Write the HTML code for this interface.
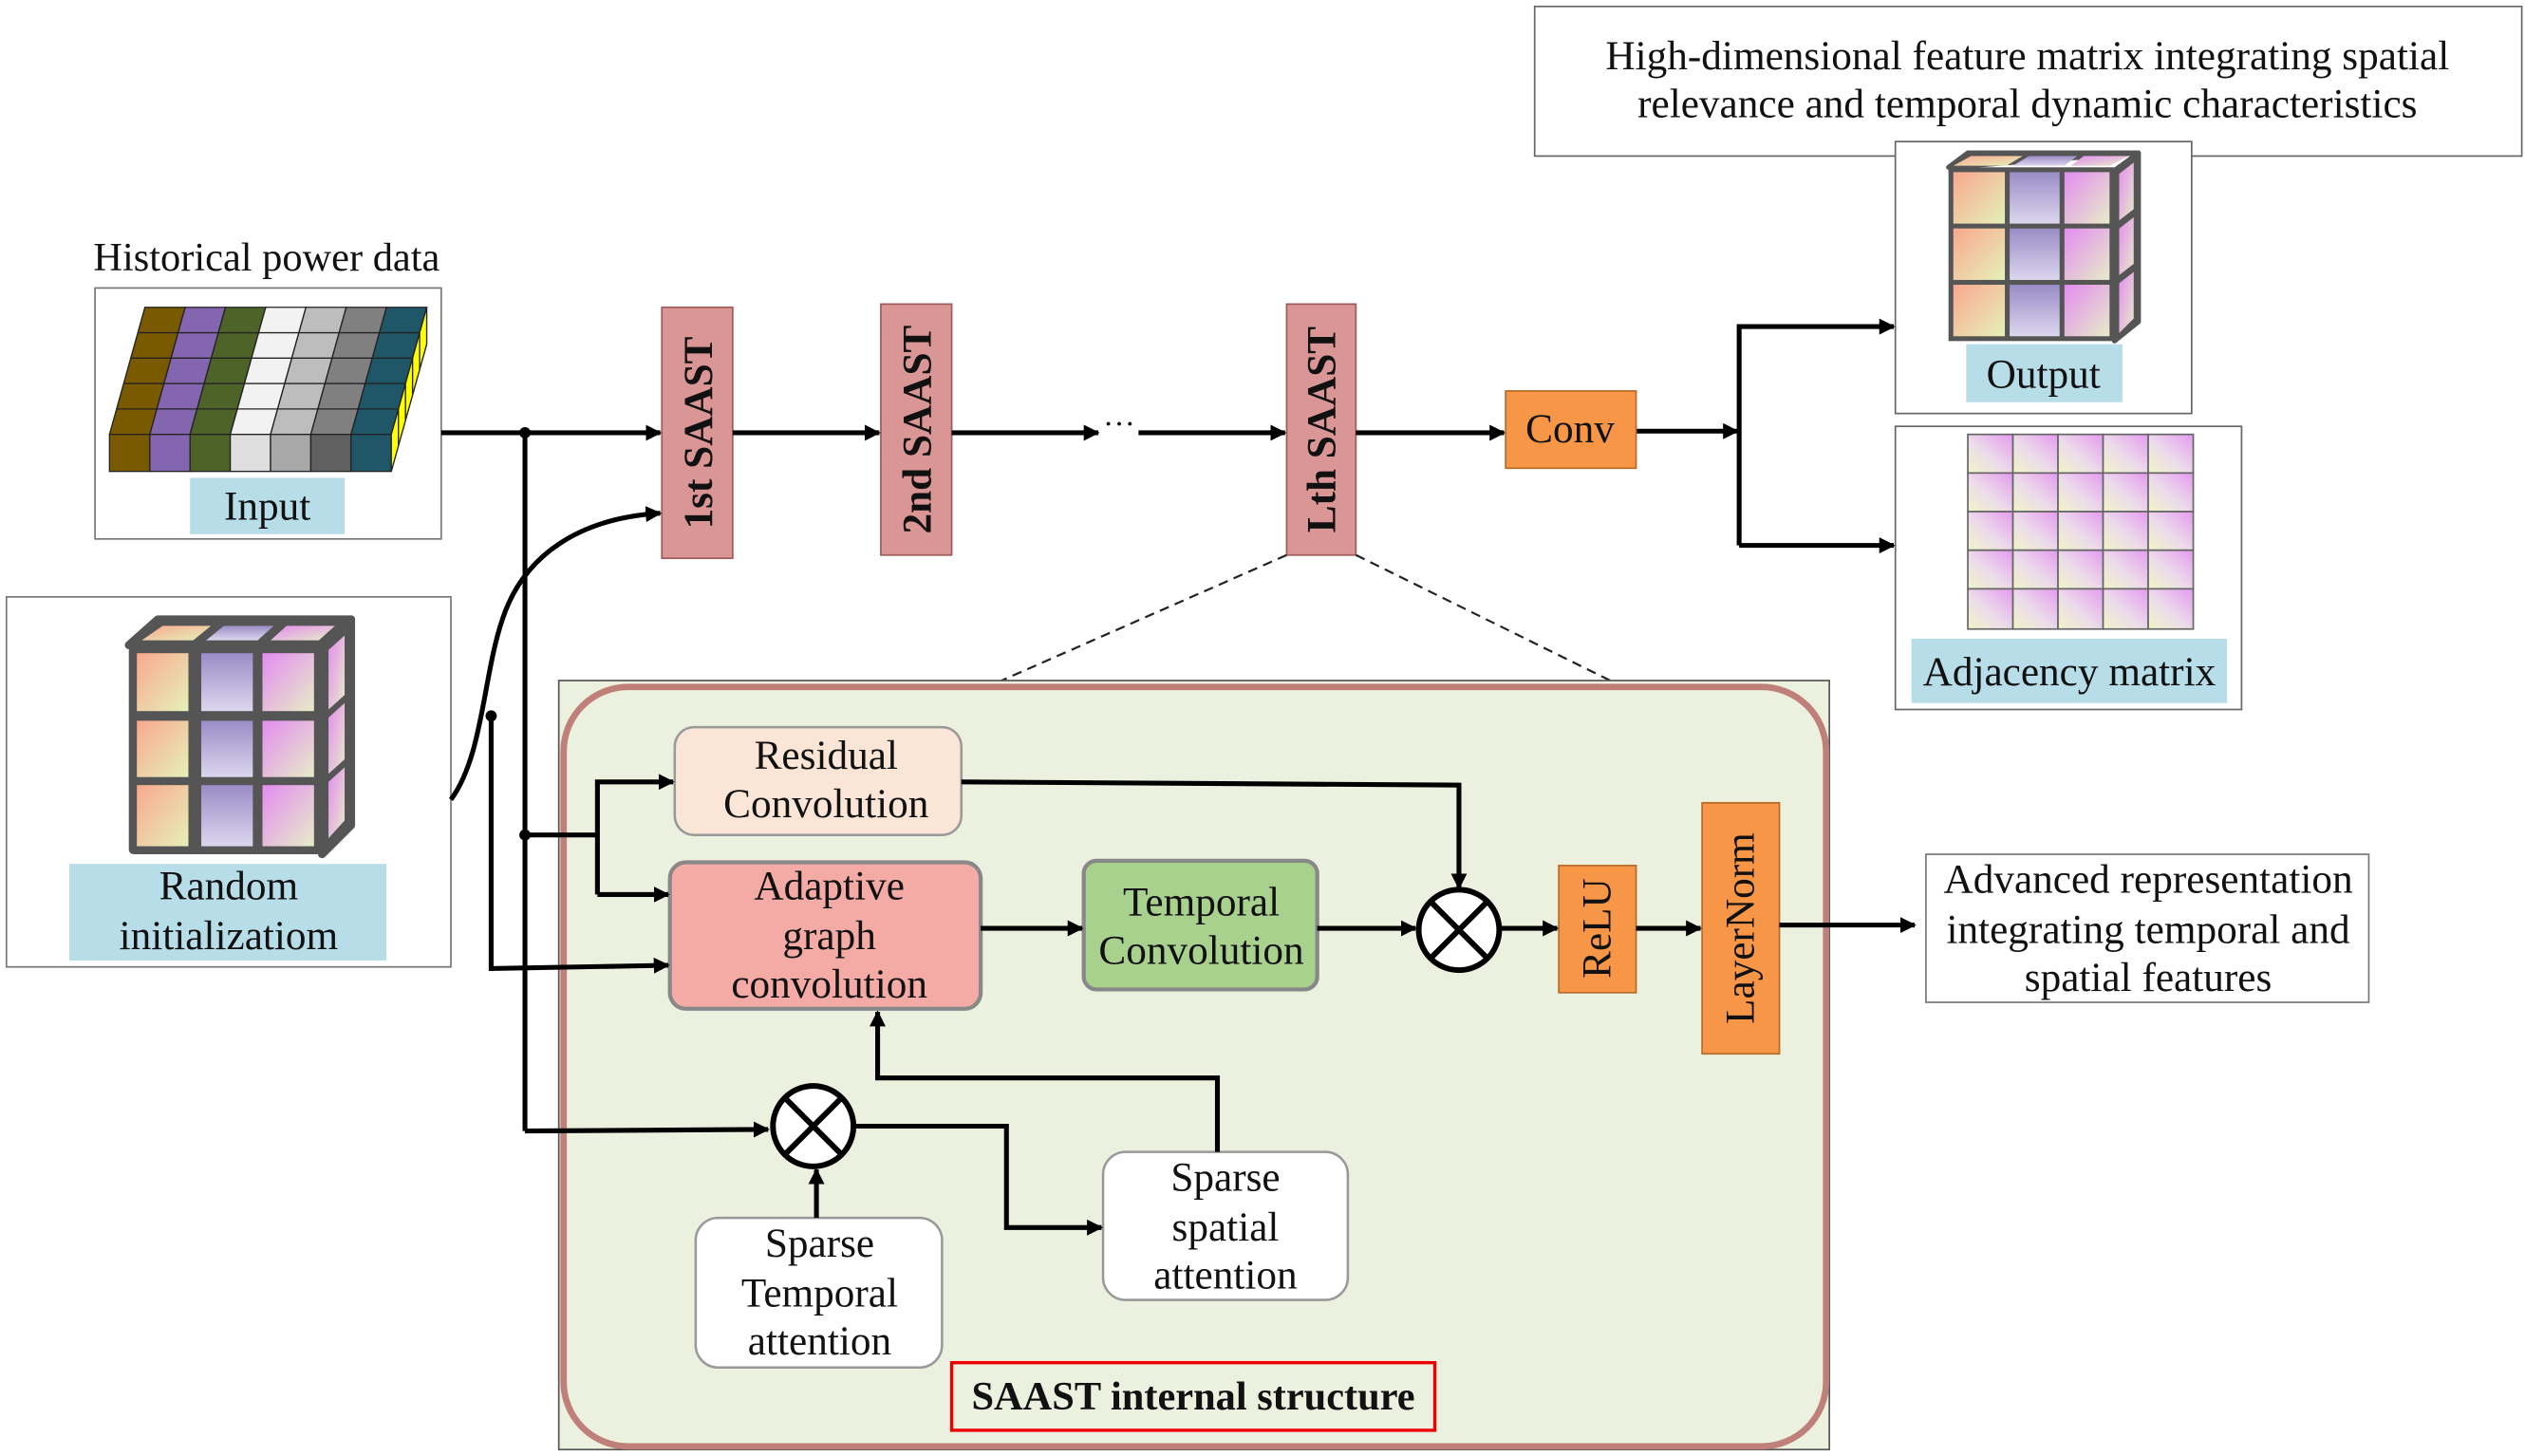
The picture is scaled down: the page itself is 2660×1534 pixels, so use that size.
<!DOCTYPE html>
<html><head><meta charset="utf-8"><style>
html,body{margin:0;padding:0;background:#fff;}
svg{display:block;}
text{font-family:"Liberation Serif","Times New Roman",serif;fill:#111;}
</style></head><body>
<svg width="2660" height="1534" viewBox="0 0 1568 905" preserveAspectRatio="none" xmlns="http://www.w3.org/2000/svg" font-family="Liberation Serif, serif">
<defs>
<marker id="ar" markerWidth="10" markerHeight="10" refX="9" refY="5" orient="auto" markerUnits="userSpaceOnUse" viewBox="0 0 10 10"><path d="M0,0 L10,5 L0,10 z" fill="#000"/></marker>
<linearGradient id="g1" x1="0" y1="0" x2="1" y2="1"><stop offset="0" stop-color="#f9a88f"/><stop offset="1" stop-color="#e6f0b8"/></linearGradient>
<linearGradient id="g2" x1="0" y1="0" x2="0" y2="1"><stop offset="0" stop-color="#9a8cc6"/><stop offset="1" stop-color="#dcd6ee"/></linearGradient>
<linearGradient id="g3" x1="0" y1="0" x2="1" y2="1"><stop offset="0" stop-color="#e48cf0"/><stop offset="1" stop-color="#e6ecc8"/></linearGradient>
<linearGradient id="g4" x1="1" y1="0" x2="0" y2="1"><stop offset="0" stop-color="#e49af0"/><stop offset="0.55" stop-color="#ecdcea"/><stop offset="1" stop-color="#f0f4c8"/></linearGradient>
</defs>

<rect x="953" y="4" width="613" height="93" fill="#fff" stroke="#666" stroke-width="1"/>
<text x="1259" y="43" font-size="25.5" text-anchor="middle">High-dimensional feature matrix integrating spatial</text>
<text x="1259" y="73" font-size="25.5" text-anchor="middle">relevance and temporal dynamic characteristics</text>

<text x="58" y="168" font-size="25">Historical power data</text>
<rect x="59" y="179" width="215" height="156" fill="#fff" stroke="#777" stroke-width="1"/>
<g stroke="#222" stroke-width="0.8">
<polygon points="90,191 115,191 93,270 68,270" fill="#7a5a00"/>
<polygon points="115,191 140,191 118,270 93,270" fill="#8466b0"/>
<polygon points="140,191 165,191 143,270 118,270" fill="#4e6328"/>
<polygon points="165,191 190,191 168,270 143,270" fill="#f2f2f2"/>
<polygon points="190,191 215,191 193,270 168,270" fill="#bdbdbd"/>
<polygon points="215,191 240,191 218,270 193,270" fill="#808080"/>
<polygon points="240,191 265,191 243,270 218,270" fill="#1f5768"/>
<line x1="85.6" y1="206.8" x2="260.6" y2="206.8"/>
<line x1="81.2" y1="222.6" x2="256.2" y2="222.6"/>
<line x1="76.8" y1="238.4" x2="251.8" y2="238.4"/>
<line x1="72.4" y1="254.2" x2="247.4" y2="254.2"/>
<rect x="68" y="270" width="25" height="23" fill="#7a5a00"/>
<rect x="93" y="270" width="25" height="23" fill="#8466b0"/>
<rect x="118" y="270" width="25" height="23" fill="#4e6328"/>
<rect x="143" y="270" width="25" height="23" fill="#dedede"/>
<rect x="168" y="270" width="25" height="23" fill="#a8a8a8"/>
<rect x="193" y="270" width="25" height="23" fill="#606060"/>
<rect x="218" y="270" width="25" height="23" fill="#1f5768"/>
<polygon points="243,270 265,191 265,214 243,293" fill="#ffff00"/>
<line x1="247.4" y1="254.2" x2="247.4" y2="277"/>
<line x1="251.8" y1="238.4" x2="251.8" y2="261"/>
<line x1="256.2" y1="222.6" x2="256.2" y2="245"/>
<line x1="260.6" y1="206.8" x2="260.6" y2="230"/>
</g>
<rect x="118" y="297" width="96" height="35" fill="#b7dde8"/>
<text x="166" y="323" font-size="25.5" text-anchor="middle">Input</text>

<rect x="4" y="371" width="276" height="230" fill="#fff" stroke="#777" stroke-width="1"/>
<g stroke="#555" stroke-width="5" stroke-linejoin="round">
<polygon points="80,401 98,385 218,385 200,401" fill="#555"/>
<polygon points="200,401 218,385 218,513 200,531" fill="#555"/>
</g>
<g>
<polygon points="88,398 101,389 131,389 120,398" fill="url(#g1)"/>
<polygon points="128,398 139,389 170,389 160,398" fill="url(#g2)"/>
<polygon points="168,398 178,389 208,389 198,398" fill="url(#g3)"/>
<polygon points="204,404 214,395 214,432 204,441" fill="url(#g3)"/>
<polygon points="204,446 214,437 214,472 204,481" fill="url(#g3)"/>
<polygon points="204,486 214,477 214,510 204,521" fill="url(#g3)"/>
</g>
<rect x="80" y="401" width="120" height="130" fill="#555" rx="3"/>
<rect x="85" y="406" width="32" height="36" fill="url(#g1)"/>
<rect x="125" y="406" width="32" height="36" fill="url(#g2)"/>
<rect x="163" y="406" width="32" height="36" fill="url(#g3)"/>
<rect x="85" y="448" width="32" height="35" fill="url(#g1)"/>
<rect x="125" y="448" width="32" height="35" fill="url(#g2)"/>
<rect x="163" y="448" width="32" height="35" fill="url(#g3)"/>
<rect x="85" y="488" width="32" height="38" fill="url(#g1)"/>
<rect x="125" y="488" width="32" height="38" fill="url(#g2)"/>
<rect x="163" y="488" width="32" height="38" fill="url(#g3)"/>
<rect x="43" y="537" width="197" height="60" fill="#b7dde8"/>
<text x="142" y="559" font-size="25.5" text-anchor="middle">Random</text>
<text x="142" y="590" font-size="25.5" text-anchor="middle">initializatiom</text>

<g fill="#d99694" stroke="#a05a58" stroke-width="1">
<rect x="411" y="191" width="44" height="156"/>
<rect x="547" y="189" width="44" height="156"/>
<rect x="799" y="189" width="43" height="156"/>
</g>
<text transform="translate(442,269) rotate(-90)" font-size="25.5" font-weight="bold" text-anchor="middle">1st SAAST</text>
<text transform="translate(578,267) rotate(-90)" font-size="25.5" font-weight="bold" text-anchor="middle">2nd SAAST</text>
<text transform="translate(829,267) rotate(-90)" font-size="25.5" font-weight="bold" text-anchor="middle">Lth SAAST</text>

<g stroke="#000" stroke-width="3" fill="none">
<line x1="274" y1="269" x2="410" y2="269" marker-end="url(#ar)"/>
<line x1="455" y1="269" x2="546" y2="269" marker-end="url(#ar)"/>
<line x1="591" y1="269" x2="682" y2="269" marker-end="url(#ar)"/>
<line x1="707" y1="269" x2="798" y2="269" marker-end="url(#ar)"/>
<line x1="842" y1="269" x2="934" y2="269" marker-end="url(#ar)"/>
<line x1="1016" y1="268" x2="1079" y2="268" marker-end="url(#ar)"/>
<polyline points="1080,339 1080,203 1176,203" marker-end="url(#ar)"/>
<line x1="1080" y1="339" x2="1176" y2="339" marker-end="url(#ar)"/>
</g>
<text x="695" y="270" font-size="20" text-anchor="middle">···</text>
<rect x="935" y="243" width="81" height="48" fill="#f79646" stroke="#b86a28" stroke-width="1"/>
<text x="975" y="275" font-size="25.5" text-anchor="middle">Conv</text>

<rect x="1177" y="88" width="184" height="169" fill="#fff" stroke="#666" stroke-width="1"/>
<polygon points="1210,104 1222,95 1328,95 1313,106 1313,212 1328,200 1328,95" fill="#555" stroke="#555" stroke-width="3" stroke-linejoin="round"/>
<polygon points="1213,103 1224,97 1256,97 1246,103" fill="url(#g1)"/>
<polygon points="1250,103 1260,97 1290,97 1282,103" fill="url(#g2)"/>
<polygon points="1286,103 1294,97 1322,97 1310,103" fill="url(#g3)"/>
<polygon points="1316,108 1325,101 1325,130 1316,137" fill="url(#g3)"/>
<polygon points="1316,142 1325,135 1325,164 1316,171" fill="url(#g3)"/>
<polygon points="1316,176 1325,169 1325,198 1316,207" fill="url(#g3)"/>
<rect x="1210" y="104" width="103" height="108" fill="#555"/>
<rect x="1213" y="107" width="32" height="32" fill="url(#g1)"/>
<rect x="1248" y="107" width="31" height="32" fill="url(#g2)"/>
<rect x="1282" y="107" width="28" height="32" fill="url(#g3)"/>
<rect x="1213" y="142" width="32" height="32" fill="url(#g1)"/>
<rect x="1248" y="142" width="31" height="32" fill="url(#g2)"/>
<rect x="1282" y="142" width="28" height="32" fill="url(#g3)"/>
<rect x="1213" y="177" width="32" height="32" fill="url(#g1)"/>
<rect x="1248" y="177" width="31" height="32" fill="url(#g2)"/>
<rect x="1282" y="177" width="28" height="32" fill="url(#g3)"/>
<rect x="1221" y="214" width="97" height="36" fill="#b7dde8"/>
<text x="1269" y="241" font-size="25.5" text-anchor="middle">Output</text>

<rect x="1177" y="265" width="215" height="176" fill="#fff" stroke="#666" stroke-width="1"/>
<g stroke="#666" stroke-width="1" fill="url(#g4)">
<rect x="1222" y="270" width="28" height="24"/><rect x="1250" y="270" width="28" height="24"/><rect x="1278" y="270" width="28" height="24"/><rect x="1306" y="270" width="28" height="24"/><rect x="1334" y="270" width="28" height="24"/>
<rect x="1222" y="294" width="28" height="24"/><rect x="1250" y="294" width="28" height="24"/><rect x="1278" y="294" width="28" height="24"/><rect x="1306" y="294" width="28" height="24"/><rect x="1334" y="294" width="28" height="24"/>
<rect x="1222" y="318" width="28" height="24"/><rect x="1250" y="318" width="28" height="24"/><rect x="1278" y="318" width="28" height="24"/><rect x="1306" y="318" width="28" height="24"/><rect x="1334" y="318" width="28" height="24"/>
<rect x="1222" y="342" width="28" height="24"/><rect x="1250" y="342" width="28" height="24"/><rect x="1278" y="342" width="28" height="24"/><rect x="1306" y="342" width="28" height="24"/><rect x="1334" y="342" width="28" height="24"/>
<rect x="1222" y="366" width="28" height="25"/><rect x="1250" y="366" width="28" height="25"/><rect x="1278" y="366" width="28" height="25"/><rect x="1306" y="366" width="28" height="25"/><rect x="1334" y="366" width="28" height="25"/>
</g>
<rect x="1187" y="397" width="196" height="40" fill="#b7dde8"/>
<text x="1285" y="426" font-size="25.5" text-anchor="middle">Adjacency matrix</text>

<g stroke="#222" stroke-width="1.3" stroke-dasharray="6,4">
<line x1="799" y1="345" x2="622" y2="423"/>
<line x1="842" y1="345" x2="1000" y2="423"/>
</g>

<rect x="347" y="423" width="789" height="478" fill="#ebf1de" stroke="#555" stroke-width="1"/>
<rect x="350" y="427" width="784" height="472" rx="40" fill="#ebf1de" stroke="#c0807a" stroke-width="4"/>

<rect x="419" y="452" width="178" height="67" rx="12" fill="#fbe5d6" stroke="#999" stroke-width="1.5"/>
<text x="513" y="478" font-size="25.5" text-anchor="middle">Residual</text>
<text x="513" y="508" font-size="25.5" text-anchor="middle">Convolution</text>

<rect x="416" y="536" width="193" height="91" rx="10" fill="#f4aaa5" stroke="#888" stroke-width="2.5"/>
<text x="515" y="559" font-size="25.5" text-anchor="middle">Adaptive</text>
<text x="515" y="590" font-size="25.5" text-anchor="middle">graph</text>
<text x="515" y="620" font-size="25.5" text-anchor="middle">convolution</text>

<rect x="673" y="535" width="145" height="80" rx="8" fill="#a9d18e" stroke="#888" stroke-width="2.5"/>
<text x="746" y="569" font-size="25.5" text-anchor="middle">Temporal</text>
<text x="746" y="599" font-size="25.5" text-anchor="middle">Convolution</text>

<rect x="968" y="538" width="48" height="79" fill="#f79646" stroke="#b86a28" stroke-width="1"/>
<text transform="translate(1000,577) rotate(-90)" font-size="25.5" text-anchor="middle">ReLU</text>
<rect x="1057" y="499" width="48" height="156" fill="#f79646" stroke="#b86a28" stroke-width="1"/>
<text transform="translate(1089,577) rotate(-90)" font-size="25.5" text-anchor="middle">LayerNorm</text>

<rect x="685" y="716" width="152" height="92" rx="14" fill="#fff" stroke="#999" stroke-width="1.5"/>
<text x="761" y="740" font-size="25.5" text-anchor="middle">Sparse</text>
<text x="761" y="771" font-size="25.5" text-anchor="middle">spatial</text>
<text x="761" y="801" font-size="25.5" text-anchor="middle">attention</text>

<rect x="432" y="757" width="153" height="93" rx="14" fill="#fff" stroke="#999" stroke-width="1.5"/>
<text x="509" y="781" font-size="25.5" text-anchor="middle">Sparse</text>
<text x="509" y="812" font-size="25.5" text-anchor="middle">Temporal</text>
<text x="509" y="842" font-size="25.5" text-anchor="middle">attention</text>

<rect x="591" y="847" width="300" height="42" fill="none" stroke="#e00" stroke-width="2"/>
<text x="741" y="876" font-size="25" font-weight="bold" text-anchor="middle">SAAST internal structure</text>

<rect x="1196" y="531" width="275" height="92" fill="#fff" stroke="#777" stroke-width="1"/>
<text x="1334" y="555" font-size="25.5" text-anchor="middle">Advanced representation</text>
<text x="1334" y="586" font-size="25.5" text-anchor="middle">integrating temporal and</text>
<text x="1334" y="616" font-size="25.5" text-anchor="middle">spatial features</text>

<g stroke="#000" stroke-width="3" fill="none">
<line x1="326" y1="269" x2="326" y2="703"/>
<polyline points="326,703 477,702" marker-end="url(#ar)"/>
<line x1="326" y1="519" x2="371" y2="519"/>
<polyline points="371,556 371,486 418,486" marker-end="url(#ar)"/>
<line x1="371" y1="556" x2="415" y2="556" marker-end="url(#ar)"/>
<path d="M280,497 C300,470 300,420 312,385 C325,345 360,322 410,319" marker-end="url(#ar)"/>
<polyline points="305,445 305,602 415,600" marker-end="url(#ar)"/>
<polyline points="597,486 906,488 906,552" marker-end="url(#ar)"/>
<line x1="609" y1="577" x2="672" y2="577" marker-end="url(#ar)"/>
<line x1="818" y1="577" x2="879" y2="577" marker-end="url(#ar)"/>
<line x1="931" y1="577" x2="967" y2="577" marker-end="url(#ar)"/>
<line x1="1016" y1="577" x2="1056" y2="577" marker-end="url(#ar)"/>
<line x1="1105" y1="575" x2="1189" y2="575" marker-end="url(#ar)"/>
<polyline points="756,716 756,670 545,670 545,629" marker-end="url(#ar)"/>
<polyline points="531,700 625,700 625,763 684,763" marker-end="url(#ar)"/>
<line x1="507" y1="757" x2="507" y2="727" marker-end="url(#ar)"/>
</g>
<g fill="#000"><circle cx="326" cy="269" r="3.5"/><circle cx="326" cy="519" r="3.5"/><circle cx="305" cy="445" r="3.5"/></g>

<g stroke="#000" stroke-width="3.5" fill="#fff">
<circle cx="906" cy="578" r="25"/>
<line x1="888" y1="560" x2="924" y2="596"/><line x1="924" y1="560" x2="888" y2="596"/>
<circle cx="505" cy="700" r="25"/>
<line x1="487" y1="682" x2="523" y2="718"/><line x1="523" y1="682" x2="487" y2="718"/>
</g>
</svg>
</body></html>
